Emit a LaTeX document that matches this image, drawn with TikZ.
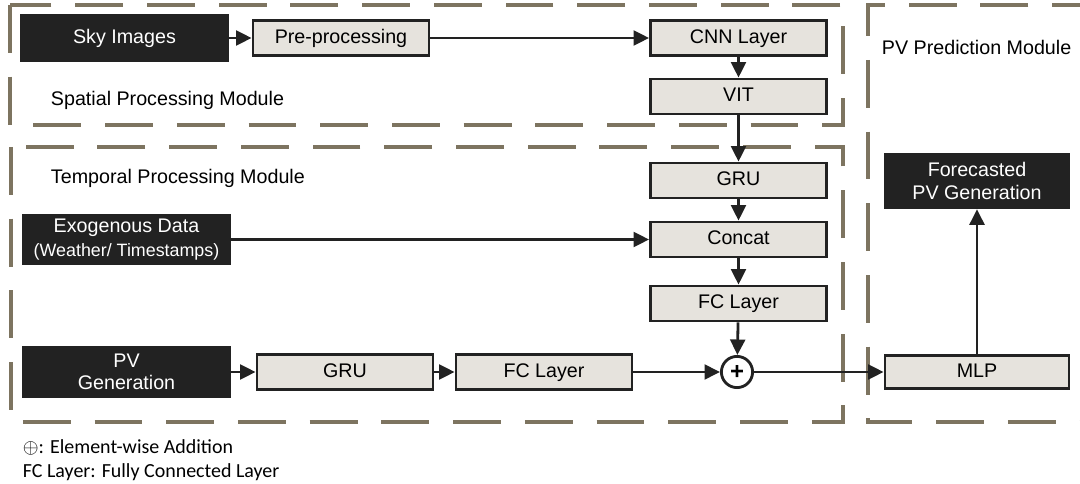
\documentclass[tikz,border=0pt]{standalone}
\usepackage{fontspec}
\setmainfont{Liberation Sans}
\newfontfamily\legendfont{Carlito}
\usetikzlibrary{arrows.meta}
\definecolor{darkbox}{HTML}{222222}
\definecolor{lightbox}{HTML}{E6E3DD}
\definecolor{dashcol}{HTML}{7D7460}

\begin{document}
\begin{tikzpicture}[x=0.025cm,y=-0.025cm,
    every node/.style={font=\fontsize{14}{16}\selectfont},
    blk/.style={fill=darkbox,text=white,align=center,inner sep=0pt,minimum width=5.225cm,minimum height=1.25cm},
    lyr/.style={draw=darkbox,fill=lightbox,line width=2pt,inner sep=0pt,text height=0.716em,text depth=0pt,minimum width=4.4cm,minimum height=0.875cm},
    modul/.style={draw=dashcol,line width=2.3pt,dash pattern=on 34pt off 17pt},
    arr/.style={-{Triangle[length=11pt,width=10.5pt]},line width=2pt,draw=darkbox}]
    \useasboundingbox (0,0) rectangle (1080,484);

    % modules
    \draw[modul] (10,5) rectangle (843,125);
    \draw[modul] (11,147) rectangle (843,422);
    \draw[modul] (1100,5) -- (868,5) -- (868,422) -- (1100,422);
    \node[anchor=west] (spat) at (46,100) {Spatial Processing Module};
    \node[anchor=west] (temp) at (46,178) {Temporal Processing Module};
    \node[anchor=west] (pred) at (877,47) {PV Prediction Module};

    % spatial
    \node[blk,minimum height=1.2cm] (sky) at (124.5,38) {Sky Images};
    \node[lyr] (pre) at (341,38) {Pre-processing};
    \node[lyr] (cnn) at (738.5,38) {CNN Layer};
    \node[lyr] (vit) at (738.5,96.5) {VIT};

    % temporal
    \node[lyr] (gru) at (738.5,180.5) {GRU};
    \node[lyr] (concat) at (738.5,239.5) {Concat};
    \node[lyr] (fc) at (738.5,303.5) {FC Layer};
    \node[blk] (exo) at (126.5,239.5) {Exogenous Data\\[1pt]{\fontsize{12.7}{14}\selectfont(Weather/ Timestamps)}};
    \node[blk,minimum height=1.275cm] (pvgen) at (126.5,372) {PV\\Generation};
    \node[lyr] (grub) at (345,372) {GRU};
    \node[lyr] (fcb) at (544,372) {FC Layer};
    \node[circle,draw=darkbox,fill=white,line width=2pt,inner sep=0pt,minimum size=0.78cm,
      font=\fontsize{17}{17}\selectfont\bfseries] (plus) at (737,372) {+};

    % prediction
    \node[lyr,minimum width=4.6cm,minimum height=0.825cm] (mlp) at (977,372) {MLP};
    \node[blk,minimum width=4.65cm,minimum height=1.4cm] (fore) at (977,181) {Forecasted\\PV Generation};

    \draw[arr] (sky) -- (pre);
    \draw[arr] (pre) -- (cnn);
    \draw[arr] (cnn) -- (vit);
    \draw[arr] (vit) -- (gru);
    \draw[arr] (gru) -- (concat);
    \draw[arr] (exo) -- (concat);
    \draw[arr] (concat) -- (fc);
    \draw[arr] (fc) -- (plus);
    \draw[arr] (pvgen) -- (grub);
    \draw[arr] (grub) -- (fcb);
    \draw[arr] (fcb) -- (plus);
    \draw[arr] (plus) -- (mlp);
    \draw[arr] (mlp) -- (fore);

    % legend
    \node[anchor=west,font=\legendfont\fontsize{14.2}{16}\selectfont] (leg1) at (18,447) {$\oplus$: Element-wise Addition};
    \node[anchor=west,font=\legendfont\fontsize{14.2}{16}\selectfont] (leg2) at (18,472) {FC Layer: Fully Connected Layer};
\end{tikzpicture}
\end{document}
